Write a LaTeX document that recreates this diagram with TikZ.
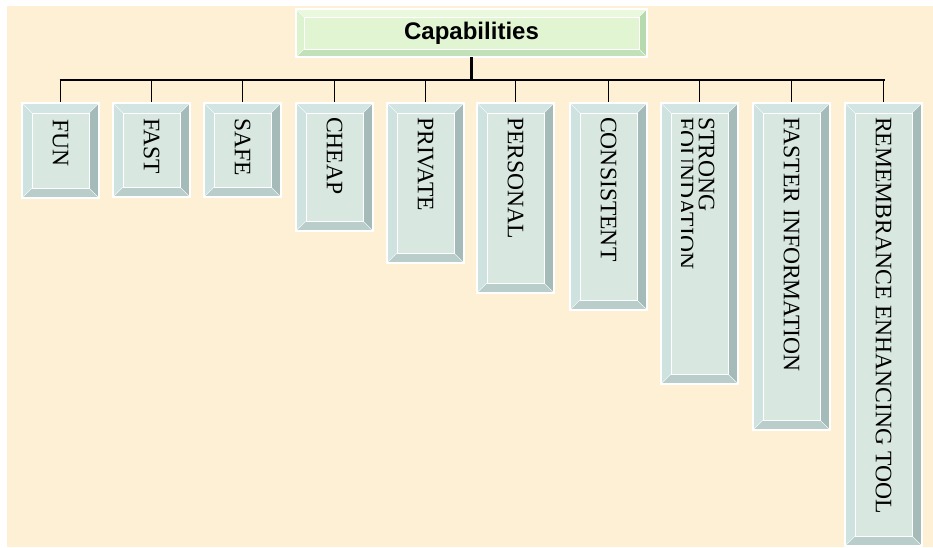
\documentclass[tikz,border=0pt]{standalone}
\usepackage{fontspec}
\setmainfont{Liberation Serif}
\newfontfamily\headfont{Liberation Sans}
\usetikzlibrary{calc}
\definecolor{bgc}{HTML}{FDF0D5}
\definecolor{gface}{HTML}{D9E7E1}
\definecolor{gtop}{HTML}{D3E5E3}
\definecolor{gleft}{HTML}{CEE2E0}
\definecolor{gright}{HTML}{A5BBB9}
\definecolor{gbot}{HTML}{B9CDCB}
\definecolor{tface}{HTML}{E2F5D3}
\definecolor{ttop}{HTML}{EAF8DE}
\definecolor{tleft}{HTML}{DDF2CE}
\definecolor{tright}{HTML}{B6D9AD}
\definecolor{tbot}{HTML}{C2E1B9}
\tikzset{
  bevel/.style n args={6}{rectangle, inner sep=0pt, outer sep=0pt,
    draw=white, line width=1.2pt,
    path picture={
      \path (path picture bounding box.north west) coordinate (pnw)
            (path picture bounding box.north east) coordinate (pne)
            (path picture bounding box.south west) coordinate (psw)
            (path picture bounding box.south east) coordinate (pse);
      \fill[#1] (pnw) rectangle (pse);
      \fill[#2] (pnw) -- (pne) -- ([shift={(-#6,-#6)}]pne) -- ([shift={(#6,-#6)}]pnw) -- cycle;
      \fill[#3] (pnw) -- (psw) -- ([shift={(#6,#6)}]psw) -- ([shift={(#6,-#6)}]pnw) -- cycle;
      \fill[#4] (pne) -- (pse) -- ([shift={(-#6,#6)}]pse) -- ([shift={(-#6,-#6)}]pne) -- cycle;
      \fill[#5] (psw) -- (pse) -- ([shift={(-#6,#6)}]pse) -- ([shift={(#6,#6)}]psw) -- cycle;
      \draw[white, line width=0.9pt] ([shift={(#6,-#6)}]pnw) rectangle ([shift={(-#6,#6)}]pse);
      \draw[white, line width=0.5pt, opacity=0.8]
        (pnw) -- ([shift={(#6,-#6)}]pnw) (pne) -- ([shift={(-#6,-#6)}]pne)
        (psw) -- ([shift={(#6,#6)}]psw) (pse) -- ([shift={(-#6,#6)}]pse);
    }},
  capbox/.style={bevel={gface}{gtop}{gleft}{gright}{gbot}{10pt},
    minimum width=77pt, anchor=north west},
  titlebox/.style={bevel={tface}{ttop}{tleft}{tright}{tbot}{8pt},
    minimum width=351pt, minimum height=48pt, anchor=north west,
    font=\headfont\bfseries\fontsize{24}{26}\selectfont},
  lbl/.style={rotate=-90, anchor=west, inner sep=0pt,
    font=\fontsize{23.6}{21}\selectfont, align=left},
  bus/.style={draw=black, line width=2.2pt},
  trunk/.style={draw=black, line width=3pt},
  drop/.style={draw=black, line width=1.8pt}
}
\begin{document}
\begin{tikzpicture}[x=1pt,y=-1pt]
\useasboundingbox (0,0) rectangle (933,547);
\fill[white] (0,0) rectangle (933,547);
\fill[bgc] (7,6) rectangle (933,547);

\coordinate (busy) at (0,80);

\node[titlebox] (title) at (296,9) {Capabilities};

\node[capbox, minimum height=95pt]  (b1)  at (22,103)  {};
\node[capbox, minimum height=94pt]  (b2)  at (113,103) {};
\node[capbox, minimum height=94pt]  (b3)  at (204,103) {};
\node[capbox, minimum height=128pt] (b4)  at (296,103) {};
\node[capbox, minimum height=160pt] (b5)  at (387,103) {};
\node[capbox, minimum height=190pt] (b6)  at (477,103) {};
\node[capbox, minimum height=207pt] (b7)  at (570,103) {};
\node[capbox, minimum height=281pt] (b8)  at (661,103) {};
\node[capbox, minimum height=327pt] (b9)  at (753,103) {};
\node[capbox, minimum height=443pt] (b10) at (845,103) {};

\node[lbl] (t1) at ([yshift=-16pt]b1.north) {FUN};
\node[lbl] (t2) at ([yshift=-15pt]b2.north) {FAST};
\node[lbl] (t3) at ([yshift=-15pt]b3.north) {SAFE};
\node[lbl] (t4) at ([yshift=-14pt]b4.north) {CHEAP};
\node[lbl] (t5) at ([yshift=-14pt]b5.north) {PRIVATE};
\node[lbl] (t6) at ([yshift=-14pt]b6.north) {PERSONAL};
\node[lbl] (t7) at ([yshift=-14pt]b7.north) {CONSISTENT};
\begin{scope}
  \clip (681,0) rectangle (933,547);
  \node[lbl] (t8) at ([xshift=-3.5pt,yshift=-14pt]b8.north) {STRONG\\FOUNDATION};
\end{scope}
\node[lbl] (t9) at ([yshift=-14pt]b9.north) {FASTER INFORMATION};
\node[lbl] (t10) at ([yshift=-14pt]b10.north) {REMEMBRANCE ENHANCING TOOL};

\draw[trunk] (title.south) -- (title.south |- busy);
\draw[bus] ([xshift=-1pt]b1.north |- busy) -- ([xshift=1pt]b10.north |- busy);
\foreach \b in {b1,b2,b3,b4,b5,b6,b7,b8,b9,b10}
  \draw[drop] (\b.north |- busy) -- ([yshift=0.6pt]\b.north);
\end{tikzpicture}
\end{document}
